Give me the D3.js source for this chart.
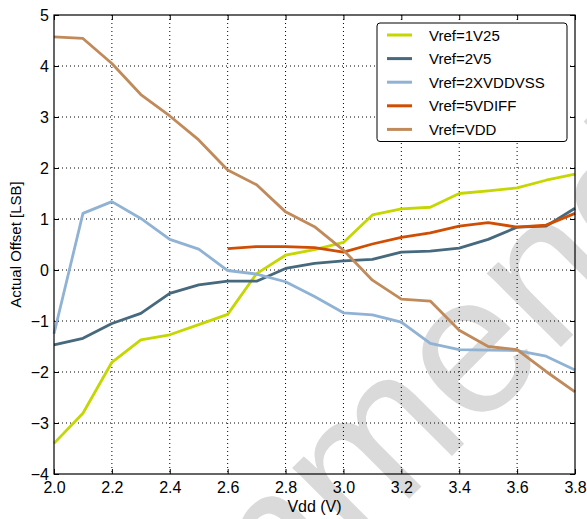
<!DOCTYPE html>
<html><head><meta charset="utf-8">
<script src="https://cdn.jsdelivr.net/npm/d3@7"></script>
<style>body{margin:0;background:#fff}svg{display:block}text{font-family:"Liberation Sans",Arial,sans-serif}</style>
</head><body>
<script>
const vdd = [2.0,2.1,2.2,2.3,2.4,2.5,2.6,2.7,2.8,2.9,3.0,3.1,3.2,3.3,3.4,3.5,3.6,3.7,3.8];
const v1V25 = [-3.40,-2.81,-1.81,-1.37,-1.27,-1.07,-0.87,-0.07,0.29,0.40,0.54,1.08,1.20,1.23,1.50,1.55,1.61,1.76,1.88];
const v2V5 = [-1.47,-1.34,-1.05,-0.85,-0.46,-0.29,-0.22,-0.22,0.03,0.13,0.18,0.21,0.35,0.37,0.43,0.60,0.84,0.86,1.21];
const v2XVDDVSS = [-1.25,1.11,1.34,1.01,0.60,0.41,-0.01,-0.08,-0.23,-0.52,-0.84,-0.88,-1.02,-1.44,-1.56,-1.57,-1.58,-1.69,-1.96];
const v5VDIFF = [null,null,null,null,null,null,0.42,0.46,0.46,0.44,0.35,0.51,0.64,0.73,0.86,0.93,0.84,0.88,1.11];
const vVDD = [4.57,4.54,4.05,3.44,3.02,2.55,1.96,1.67,1.14,0.85,0.39,-0.20,-0.57,-0.61,-1.18,-1.50,-1.56,-1.99,-2.39];
const seriesNames = ["Vref=1V25","Vref=2V5","Vref=2XVDDVSS","Vref=5VDIFF","Vref=VDD"];
const seriesValues = [v1V25, v2V5, v2XVDDVSS, v5VDIFF, vVDD];
const seriesColors = ["#c5d600","#46697e","#90b2d4","#cf4e04","#c08a5a"];
const xTicks = [2.0,2.2,2.4,2.6,2.8,3.0,3.2,3.4,3.6,3.8];
const yTicks = [-4,-3,-2,-1,0,1,2,3,4,5];

const W=587,H=519;
const svg=d3.select("body").append("svg").attr("width",W).attr("height",H);
const L=54,R=575,T=15,B=474;
const x=d3.scaleLinear().domain([2.0,3.8]).range([L,R]);
const y=d3.scaleLinear().domain([-4,5]).range([B,T]);

// watermark
svg.append("text").attr("transform","translate(388,520) rotate(-45)")
  .attr("text-anchor","middle").attr("font-size",198).attr("fill","#dadada")
  .text("Recommended");

// grid
const g=svg.append("g");
g.selectAll(".gx").data(xTicks.slice(1,-1)).enter().append("line")
  .attr("x1",d=>x(d)).attr("x2",d=>x(d)).attr("y1",T).attr("y2",B)
  .attr("stroke","#000").attr("stroke-width",1).attr("stroke-dasharray","1,3");
g.selectAll(".gy").data(yTicks.slice(1,-1)).enter().append("line")
  .attr("y1",d=>y(d)).attr("y2",d=>y(d)).attr("x1",L).attr("x2",R)
  .attr("stroke","#000").attr("stroke-width",1).attr("stroke-dasharray","1,3");

// axes
const fmtY=d=>d<0?"\u2212"+Math.abs(d):String(d);
const ax=svg.append("g").attr("transform",`translate(0,${B})`).call(d3.axisBottom(x).tickValues(xTicks).tickFormat(d3.format(".1f")).tickSizeInner(-5).tickSizeOuter(0).tickPadding(8));
const ay=svg.append("g").attr("transform",`translate(${L},0)`).call(d3.axisLeft(y).tickValues(yTicks).tickFormat(fmtY).tickSizeInner(-5).tickSizeOuter(0).tickPadding(5));
const at=svg.append("g").attr("transform",`translate(0,${T})`).call(d3.axisTop(x).tickValues(xTicks).tickFormat("").tickSizeInner(-5).tickSizeOuter(0));
const ar=svg.append("g").attr("transform",`translate(${R},0)`).call(d3.axisRight(y).tickValues(yTicks).tickFormat("").tickSizeInner(-5).tickSizeOuter(0));
[ax,ay,at,ar].forEach(a=>{a.select(".domain").remove();a.selectAll("line").attr("stroke","#000");a.selectAll("text").attr("font-size",16).attr("fill","#000").attr("font-family","Liberation Sans, Arial, sans-serif");});

// lines
const line=d3.line().defined(d=>d[1]!==null).x(d=>x(d[0])).y(d=>y(d[1]));
seriesValues.forEach((vals,i)=>{
  svg.append("path").datum(vdd.map((v,j)=>[v,vals[j]]))
    .attr("d",line).attr("fill","none").attr("stroke",seriesColors[i])
    .attr("stroke-width",2.8).attr("stroke-linejoin","round");
});

// frame
svg.append("rect").attr("x",L).attr("y",T).attr("width",R-L).attr("height",B-T)
  .attr("fill","none").attr("stroke","#000").attr("stroke-width",1.2);

// labels
svg.append("text").attr("x",(L+R)/2).attr("y",512).attr("text-anchor","middle").attr("font-size",16).text("Vdd (V)");
svg.append("text").attr("transform",`translate(21,${(T+B)/2}) rotate(-90)`).attr("text-anchor","middle").attr("font-size",15).text("Actual Offset [LSB]");

// legend
const lg=svg.append("g");
lg.append("rect").attr("x",377).attr("y",23).attr("width",190).attr("height",118.5).attr("rx",3)
  .attr("fill","#fff").attr("stroke","#000").attr("stroke-width",1);
seriesNames.forEach((n,i)=>{
  const yy=35+i*23.6;
  lg.append("line").attr("x1",387).attr("x2",412).attr("y1",yy).attr("y2",yy).attr("stroke",seriesColors[i]).attr("stroke-width",3);
  lg.append("text").attr("x",429).attr("y",yy+5.5).attr("font-size",15).text(n);
});
</script>
</body></html>
